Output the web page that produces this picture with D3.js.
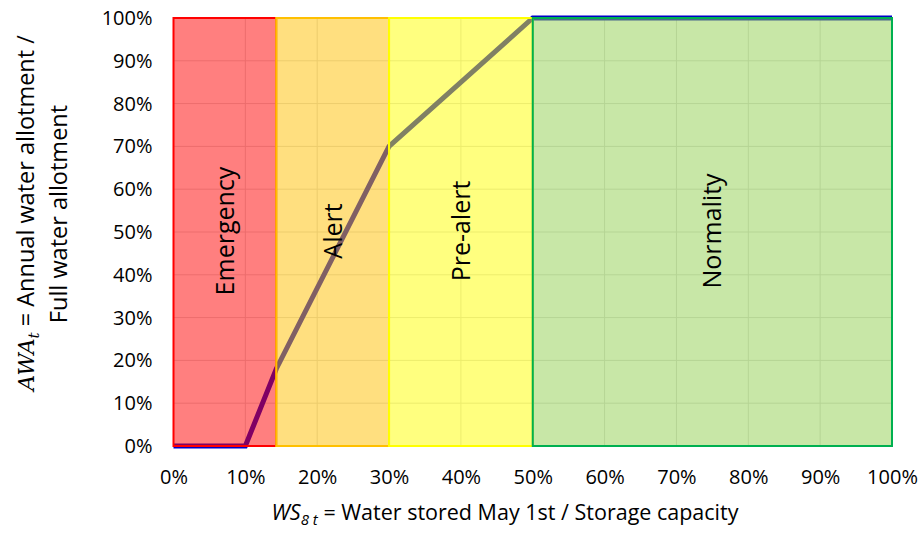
<!DOCTYPE html>
<html><head><meta charset="utf-8">
<script src="https://cdn.jsdelivr.net/npm/d3@7"></script>
<style>body{margin:0;background:#fff;} text{font-family:"Open Sans",sans-serif;}</style>
</head><body>
<svg id="c" width="922" height="538"></svg>
<script>
const curveX = [0, 0.10, 0.143, 0.30, 0.50, 1.00];
const curveY = [0, 0, 0.18, 0.70, 1.00, 1.00];
const zoneNames = ["Emergency", "Alert", "Pre-alert", "Normality"];
const zoneStart = [0, 0.143, 0.30, 0.50];
const zoneEnd = [0.143, 0.30, 0.50, 1.00];
const zoneFill = ["#ff0000", "#ffc000", "#ffff00", "#92d050"];
const zoneStroke = ["#ff0000", "#ffc000", "#ffff00", "#00b050"];
const xTicks = [0,0.1,0.2,0.3,0.4,0.5,0.6,0.7,0.8,0.9,1.0];
const yTicks = [0,0.1,0.2,0.3,0.4,0.5,0.6,0.7,0.8,0.9,1.0];

const svg = d3.select("#c");
const x = d3.scaleLinear().domain([0,1]).range([173.5,892]);
const y = d3.scaleLinear().domain([0,1]).range([446,18]);
const fmt = d3.format(".0%");
const FONT = "'Open Sans',sans-serif";

// grid
svg.append("g").selectAll("line").data(yTicks).join("line")
  .attr("x1",x(0)).attr("x2",x(1)).attr("y1",d=>y(d)).attr("y2",d=>y(d))
  .attr("stroke","#d9d9d9").attr("stroke-width",1);
svg.append("g").selectAll("line").data(xTicks).join("line")
  .attr("y1",y(0)).attr("y2",y(1)).attr("x1",d=>x(d)).attr("x2",d=>x(d))
  .attr("stroke","#d9d9d9").attr("stroke-width",1);

// line
const pts = curveX.map((v,i)=>[v,curveY[i]]);
svg.append("path").datum(pts)
  .attr("d", d3.line().x(d=>x(d[0])).y(d=>y(d[1])))
  .attr("fill","none").attr("stroke","#0000c8").attr("stroke-width",5);

// zones
const zones = zoneNames.map((n,i)=>({n, s:zoneStart[i], e:zoneEnd[i], f:zoneFill[i], st:zoneStroke[i]}));
svg.append("g").selectAll("rect").data(zones).join("rect")
  .attr("x",d=>x(d.s)).attr("width",d=>x(d.e)-x(d.s))
  .attr("y",y(1)).attr("height",y(0)-y(1))
  .attr("fill",d=>d.f).attr("fill-opacity",0.5)
  .attr("stroke",d=>d.st).attr("stroke-width",2);

svg.append("g").selectAll("text").data(zones).join("text")
  .attr("transform",d=>`translate(${x((d.s+d.e)/2)+9},${y(0.5)-1}) rotate(-90)`)
  .attr("text-anchor","middle").attr("font-size",25).attr("fill","#000")
  .text(d=>d.n);

// axes
const xa = svg.append("g").attr("transform",`translate(0,${y(0)})`)
  .call(d3.axisBottom(x).tickValues(xTicks).tickFormat(fmt).tickSize(0).tickPadding(24));
xa.select(".domain").remove();
xa.selectAll("text").attr("font-size",20).attr("fill","#000").attr("font-family",FONT);
const ya = svg.append("g").attr("transform",`translate(${x(0)},0)`)
  .call(d3.axisLeft(y).tickValues(yTicks).tickFormat(fmt).tickSize(0).tickPadding(21));
ya.select(".domain").remove();
ya.selectAll("text").attr("font-size",20).attr("fill","#000").attr("font-family",FONT);

// x title
const xt = svg.append("text").attr("x",505).attr("y",520).attr("text-anchor","middle").attr("font-size",21.5);
xt.append("tspan").attr("font-style","italic").text("WS");
xt.append("tspan").attr("font-style","italic").attr("font-size",15).attr("dy",5).text("8  t");
xt.append("tspan").attr("dy",-5).text(" = Water stored May 1st / Storage capacity");

// y title
const yt = svg.append("text").attr("transform","translate(34,213) rotate(-90)").attr("text-anchor","middle").attr("font-size",23.5);
yt.append("tspan").attr("font-style","italic").attr("font-family","'DejaVu Serif',serif").attr("font-size",22).text("AWA");
yt.append("tspan").attr("font-style","italic").attr("font-family","'DejaVu Serif',serif").attr("font-size",15).attr("dy",5).text("t");
yt.append("tspan").attr("dy",-5).text(" = Annual water allotment /");
svg.append("text").attr("transform","translate(67,214) rotate(-90)").attr("text-anchor","middle").attr("font-size",23.5).text("Full water allotment");
</script>
</body></html>
